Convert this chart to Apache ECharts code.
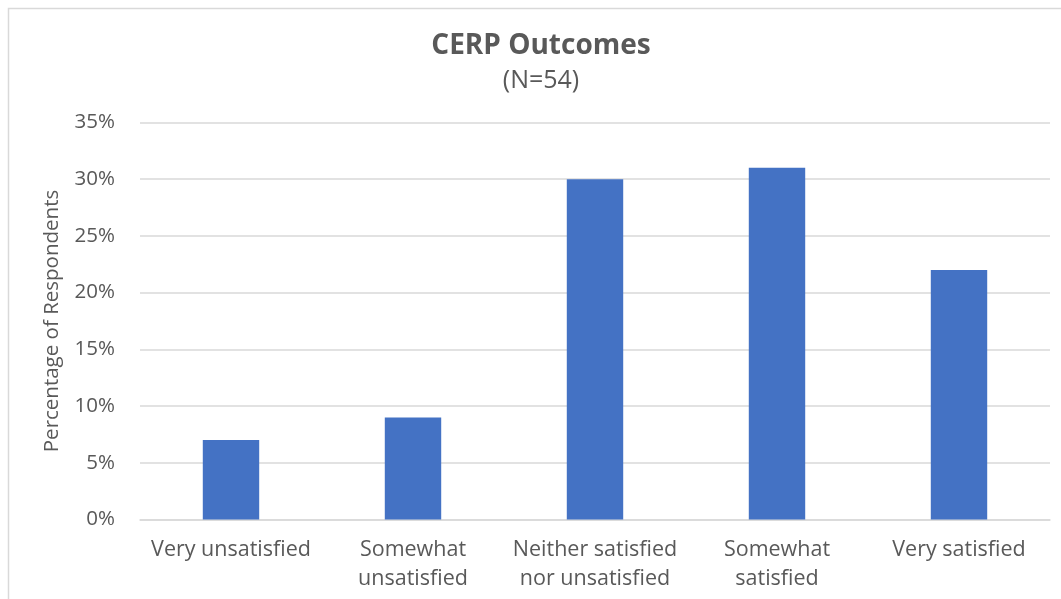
<!DOCTYPE html>
<html>
<head>
<meta charset="utf-8">
<script src="https://cdn.jsdelivr.net/npm/echarts@6/dist/echarts.min.js"></script>
<style>
  html, body { margin: 0; padding: 0; background: #fff; }
  #chart { width: 1061px; height: 599px; }
</style>
</head>
<body>
<div id="chart"></div>
<script>
// Satisfaction categories and share of respondents (%)
const categories = [
  'Very unsatisfied',
  'Somewhat\nunsatisfied',
  'Neither satisfied\nnor unsatisfied',
  'Somewhat\nsatisfied',
  'Very satisfied'
];
const percentages = [7, 9, 30, 31, 22];
const titleText = 'CERP Outcomes';
const subtitleText = '(N=54)';
const yAxisTitle = 'Percentage of Respondents';

const FONT = '"Open Sans", sans-serif';
const TEXT = '#595959';

const chart = echarts.init(document.getElementById('chart'), null, { renderer: 'canvas' });
chart.setOption({
  animation: false,
  backgroundColor: '#ffffff',
  graphic: [{
    type: 'rect',
    shape: { x: 8.5, y: 8.5, width: 1100, height: 620 },
    style: { fill: 'none', stroke: '#d9d9d9', lineWidth: 1.5 },
    silent: true
  }],
  title: [{
    text: titleText,
    left: 536,
    textAlign: 'center',
    top: 26,
    textStyle: { fontFamily: FONT, fontSize: 28, lineHeight: 31, fontWeight: 'bold', color: TEXT }
  }, {
    text: subtitleText,
    left: 536,
    textAlign: 'center',
    top: 62,
    textStyle: { fontFamily: FONT, fontSize: 25, lineHeight: 28, fontWeight: 'normal', color: TEXT }
  }],
  grid: { left: 140, right: 11, top: 122.5, bottom: 79.5, containLabel: false },
  xAxis: {
    type: 'category',
    data: categories,
    axisTick: { show: false },
    axisLine: { show: true, lineStyle: { color: '#d9d9d9', width: 1.5 } },
    axisLabel: {
      fontFamily: FONT, fontSize: 21.5, color: TEXT, margin: 16,
      lineHeight: 29, interval: 0
    }
  },
  yAxis: {
    type: 'value',
    min: 0, max: 35, interval: 5,
    name: yAxisTitle,
    nameLocation: 'middle',
    nameGap: 77,
    nameRotate: 90,
    nameTextStyle: { fontFamily: FONT, fontSize: 20.5, color: TEXT },
    axisLine: { show: false },
    axisTick: { show: false },
    axisLabel: {
      fontFamily: FONT, fontSize: 20.5, color: TEXT, margin: 25,
      formatter: v => v + '%'
    },
    splitLine: { lineStyle: { color: '#d9d9d9', width: 1.5 } }
  },
  series: [{
    type: 'bar',
    data: percentages,
    barWidth: '31%',
    itemStyle: { color: '#4472c4' }
  }]
});
</script>
</body>
</html>
